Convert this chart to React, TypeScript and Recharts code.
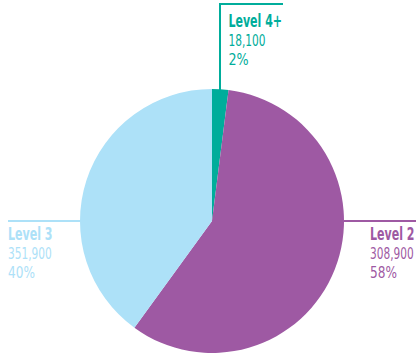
import React from 'react';
import { PieChart, Pie, Cell } from 'recharts';

// Niveluri, valori si procente
const levels = ['Level 4+', 'Level 2', 'Level 3'];
const counts = ['18,100', '308,900', '351,900'];
const shares = [2, 58, 40];
const colors = ['#00ad9b', '#9e59a3', '#ade1f8'];

const data = levels.map((name, i) => ({ name, count: counts[i], share: shares[i] }));

const FONT = "'DejaVu Sans Condensed', 'Liberation Sans', sans-serif";

// latimi aproximative pentru un font ingust (condensed), ca in original
const charW: Record<string, number> = {
    L: 7, e: 8, v: 7, l: 3.5, ' ': 3.5, '+': 9, ',': 3.5, '%': 13.5,
};
const textWidth = (s: string, bold: boolean) =>
    s.split('').reduce((acc, c) => acc + (charW[c] ?? (bold ? 7.5 : 6.7)), 0);

const LabelBlock = ({ x, y, color, lines }: any) => (
    <g fill={color} fontFamily={FONT}>
        {lines.map((s: string, i: number) => (
            <text
                key={i}
                x={x}
                y={y + i * 19}
                fontSize={i === 0 ? 17 : 16}
                fontWeight={i === 0 ? 'bold' : 'normal'}
                textLength={textWidth(s, i === 0)}
                lengthAdjust="spacingAndGlyphs"
            >
                {s}
            </text>
        ))}
    </g>
);

// Eticheta personalizata: pozitiile pleaca de la geometria pie-ului
const renderLabel = (props: any) => {
    const { cx, cy, outerRadius, index, payload } = props;
    const color = colors[index];
    const lines = [payload.name, payload.count, `${payload.share}%`];

    if (index === 0) {
        const lx = cx + 8;
        const top = 4;
        return (
            <g>
                <polyline
                    points={`${lx},${cy - outerRadius + 2} ${lx},${top} ${lx + 63},${top}`}
                    fill="none"
                    stroke={color}
                    strokeWidth={2}
                />
                <LabelBlock x={lx + 8.5} y={27} color={color} lines={lines} />
            </g>
        );
    }
    if (index === 1) {
        const x0 = cx + outerRadius;
        return (
            <g>
                <line x1={x0} y1={cy} x2={416} y2={cy} stroke={color} strokeWidth={2} />
                <LabelBlock x={370} y={240} color={color} lines={lines} />
            </g>
        );
    }
    const x0 = cx - outerRadius;
    return (
        <g>
            <line x1={8} y1={cy} x2={x0} y2={cy} stroke={color} strokeWidth={2} />
            <LabelBlock x={8} y={240} color={color} lines={lines} />
        </g>
    );
};

export default function App() {
    return (
        <div style={{ position: 'absolute', left: 0, top: 0, width: 418, height: 354, background: '#fff' }}>
            <PieChart width={418} height={354} margin={{ top: 0, right: 0, bottom: 0, left: 0 }}>
                <Pie
                    data={data}
                    dataKey="share"
                    nameKey="name"
                    cx={212}
                    cy={221}
                    outerRadius={132}
                    startAngle={90}
                    endAngle={-270}
                    stroke="none"
                    label={renderLabel}
                    labelLine={false}
                    isAnimationActive={false}
                >
                    {data.map((entry, i) => (
                        <Cell key={`cell-${i}`} fill={colors[i]} />
                    ))}
                </Pie>
            </PieChart>
        </div>
    );
}
